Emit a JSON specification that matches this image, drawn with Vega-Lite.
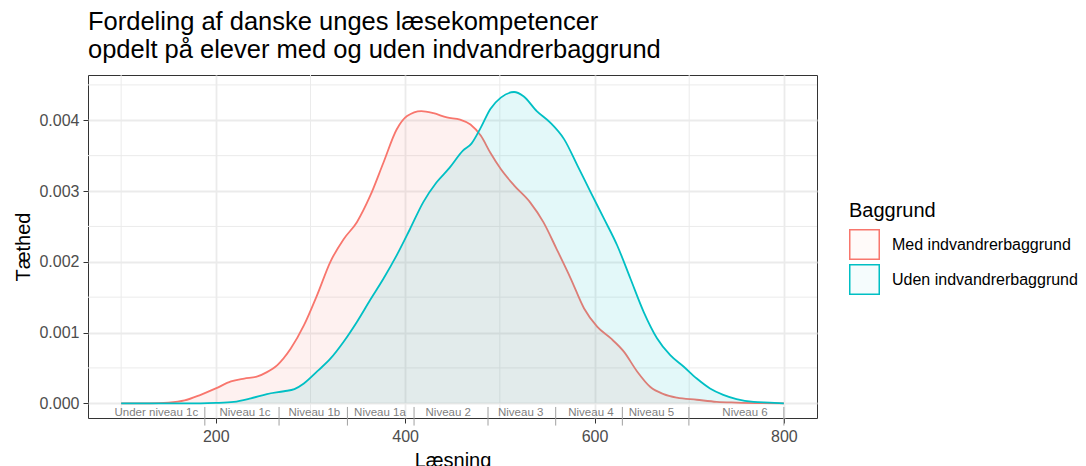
{
  "$schema": "https://vega.github.io/schema/vega-lite/v6.json",
  "width": 729,
  "height": 343,
  "autosize": "none",
  "padding": {"left": 88, "top": 75, "right": 269, "bottom": 48},
  "background": "white",
  "title": {
    "text": ["Fordeling af danske unges læsekompetencer", "opdelt på elever med og uden indvandrerbaggrund"],
    "anchor": "start",
    "frame": "group",
    "font": "Liberation Sans",
    "fontSize": 25.5,
    "fontWeight": "normal",
    "color": "black",
    "lineHeight": 28,
    "offset": 11
  },
  "config": {
    "font": "Liberation Sans",
    "view": {"stroke": "#333333", "strokeWidth": 1}
  },
  "datasets": {
    "dens": [
      {"g": "Med indvandrerbaggrund", "x": 100, "y": 0},
      {"g": "Med indvandrerbaggrund", "x": 130, "y": 0},
      {"g": "Med indvandrerbaggrund", "x": 150, "y": 0.00001},
      {"g": "Med indvandrerbaggrund", "x": 167, "y": 0.00004},
      {"g": "Med indvandrerbaggrund", "x": 184, "y": 0.00012},
      {"g": "Med indvandrerbaggrund", "x": 200, "y": 0.00021},
      {"g": "Med indvandrerbaggrund", "x": 216, "y": 0.00031},
      {"g": "Med indvandrerbaggrund", "x": 230, "y": 0.00035},
      {"g": "Med indvandrerbaggrund", "x": 244, "y": 0.00038},
      {"g": "Med indvandrerbaggrund", "x": 254, "y": 0.00044},
      {"g": "Med indvandrerbaggrund", "x": 265, "y": 0.00054},
      {"g": "Med indvandrerbaggrund", "x": 279, "y": 0.00077},
      {"g": "Med indvandrerbaggrund", "x": 293, "y": 0.0011},
      {"g": "Med indvandrerbaggrund", "x": 307, "y": 0.00153},
      {"g": "Med indvandrerbaggrund", "x": 321, "y": 0.002},
      {"g": "Med indvandrerbaggrund", "x": 335, "y": 0.00232},
      {"g": "Med indvandrerbaggrund", "x": 349, "y": 0.00256},
      {"g": "Med indvandrerbaggrund", "x": 363, "y": 0.00293},
      {"g": "Med indvandrerbaggrund", "x": 377, "y": 0.0034},
      {"g": "Med indvandrerbaggrund", "x": 391, "y": 0.00387},
      {"g": "Med indvandrerbaggrund", "x": 402, "y": 0.00406},
      {"g": "Med indvandrerbaggrund", "x": 417, "y": 0.00413},
      {"g": "Med indvandrerbaggrund", "x": 430, "y": 0.0041},
      {"g": "Med indvandrerbaggrund", "x": 444, "y": 0.00404},
      {"g": "Med indvandrerbaggrund", "x": 458, "y": 0.00401},
      {"g": "Med indvandrerbaggrund", "x": 469, "y": 0.00394},
      {"g": "Med indvandrerbaggrund", "x": 480, "y": 0.00378},
      {"g": "Med indvandrerbaggrund", "x": 490, "y": 0.00354},
      {"g": "Med indvandrerbaggrund", "x": 501, "y": 0.00331},
      {"g": "Med indvandrerbaggrund", "x": 515, "y": 0.00308},
      {"g": "Med indvandrerbaggrund", "x": 532, "y": 0.00284},
      {"g": "Med indvandrerbaggrund", "x": 546, "y": 0.00256},
      {"g": "Med indvandrerbaggrund", "x": 560, "y": 0.00218},
      {"g": "Med indvandrerbaggrund", "x": 575, "y": 0.00176},
      {"g": "Med indvandrerbaggrund", "x": 589, "y": 0.00134},
      {"g": "Med indvandrerbaggrund", "x": 603, "y": 0.00108},
      {"g": "Med indvandrerbaggrund", "x": 617, "y": 0.00092},
      {"g": "Med indvandrerbaggrund", "x": 631, "y": 0.00073},
      {"g": "Med indvandrerbaggrund", "x": 645, "y": 0.00045},
      {"g": "Med indvandrerbaggrund", "x": 659, "y": 0.00023},
      {"g": "Med indvandrerbaggrund", "x": 673, "y": 0.00013},
      {"g": "Med indvandrerbaggrund", "x": 687, "y": 0.00008},
      {"g": "Med indvandrerbaggrund", "x": 708, "y": 0.00005},
      {"g": "Med indvandrerbaggrund", "x": 729, "y": 0.00002},
      {"g": "Med indvandrerbaggrund", "x": 750, "y": 0.00001},
      {"g": "Med indvandrerbaggrund", "x": 800, "y": 0},
      {"g": "Uden indvandrerbaggrund", "x": 100, "y": 0},
      {"g": "Uden indvandrerbaggrund", "x": 184, "y": 0},
      {"g": "Uden indvandrerbaggrund", "x": 200, "y": 0.000005},
      {"g": "Uden indvandrerbaggrund", "x": 219, "y": 0.00002},
      {"g": "Uden indvandrerbaggrund", "x": 237, "y": 0.00007},
      {"g": "Uden indvandrerbaggrund", "x": 254, "y": 0.00013},
      {"g": "Uden indvandrerbaggrund", "x": 272, "y": 0.00017},
      {"g": "Uden indvandrerbaggrund", "x": 283, "y": 0.0002},
      {"g": "Uden indvandrerbaggrund", "x": 293, "y": 0.00028},
      {"g": "Uden indvandrerbaggrund", "x": 307, "y": 0.00045},
      {"g": "Uden indvandrerbaggrund", "x": 321, "y": 0.00063},
      {"g": "Uden indvandrerbaggrund", "x": 335, "y": 0.00087},
      {"g": "Uden indvandrerbaggrund", "x": 349, "y": 0.00115},
      {"g": "Uden indvandrerbaggrund", "x": 363, "y": 0.00146},
      {"g": "Uden indvandrerbaggrund", "x": 377, "y": 0.00176},
      {"g": "Uden indvandrerbaggrund", "x": 391, "y": 0.00209},
      {"g": "Uden indvandrerbaggrund", "x": 405, "y": 0.00246},
      {"g": "Uden indvandrerbaggrund", "x": 419, "y": 0.00284},
      {"g": "Uden indvandrerbaggrund", "x": 433, "y": 0.00312},
      {"g": "Uden indvandrerbaggrund", "x": 447, "y": 0.00333},
      {"g": "Uden indvandrerbaggrund", "x": 461, "y": 0.00357},
      {"g": "Uden indvandrerbaggrund", "x": 470, "y": 0.00367},
      {"g": "Uden indvandrerbaggrund", "x": 480, "y": 0.0039},
      {"g": "Uden indvandrerbaggrund", "x": 490, "y": 0.00416},
      {"g": "Uden indvandrerbaggrund", "x": 501, "y": 0.00432},
      {"g": "Uden indvandrerbaggrund", "x": 515, "y": 0.0044},
      {"g": "Uden indvandrerbaggrund", "x": 525, "y": 0.00434},
      {"g": "Uden indvandrerbaggrund", "x": 539, "y": 0.00413},
      {"g": "Uden indvandrerbaggrund", "x": 553, "y": 0.00397},
      {"g": "Uden indvandrerbaggrund", "x": 568, "y": 0.00373},
      {"g": "Uden indvandrerbaggrund", "x": 582, "y": 0.00336},
      {"g": "Uden indvandrerbaggrund", "x": 596, "y": 0.00298},
      {"g": "Uden indvandrerbaggrund", "x": 610, "y": 0.00261},
      {"g": "Uden indvandrerbaggrund", "x": 624, "y": 0.00223},
      {"g": "Uden indvandrerbaggrund", "x": 638, "y": 0.00176},
      {"g": "Uden indvandrerbaggrund", "x": 652, "y": 0.00129},
      {"g": "Uden indvandrerbaggrund", "x": 666, "y": 0.00092},
      {"g": "Uden indvandrerbaggrund", "x": 680, "y": 0.00068},
      {"g": "Uden indvandrerbaggrund", "x": 694, "y": 0.00052},
      {"g": "Uden indvandrerbaggrund", "x": 708, "y": 0.00035},
      {"g": "Uden indvandrerbaggrund", "x": 722, "y": 0.00021},
      {"g": "Uden indvandrerbaggrund", "x": 736, "y": 0.00012},
      {"g": "Uden indvandrerbaggrund", "x": 750, "y": 0.00006},
      {"g": "Uden indvandrerbaggrund", "x": 768, "y": 0.00002},
      {"g": "Uden indvandrerbaggrund", "x": 785, "y": 0.00001},
      {"g": "Uden indvandrerbaggrund", "x": 800, "y": 0}
    ],
    "minorx": [{"x": 100}, {"x": 300}, {"x": 500}, {"x": 700}],
    "minory": [{"y": 0.0005}, {"y": 0.0015}, {"y": 0.0025}, {"y": 0.0035}, {"y": 0.0045}],
    "bounds": [{"x": 188.4}, {"x": 266.8}, {"x": 339}, {"x": 409.4}, {"x": 487.5}, {"x": 559}, {"x": 629.4}, {"x": 699.7}, {"x": 800}],
    "levels": [
      {"label": "Under niveau 1c", "x": 137.2},
      {"label": "Niveau 1c", "x": 230.8},
      {"label": "Niveau 1b", "x": 304},
      {"label": "Niveau 1a", "x": 373.4},
      {"label": "Niveau 2", "x": 445.5},
      {"label": "Niveau 3", "x": 522},
      {"label": "Niveau 4", "x": 596.2},
      {"label": "Niveau 5", "x": 660.1},
      {"label": "Niveau 6", "x": 759}
    ]
  },
  "layer": [
    {
      "data": {"name": "minorx"},
      "mark": {"type": "rule", "color": "#ebebeb", "strokeWidth": 1},
      "encoding": {
        "x": {
          "field": "x", "type": "quantitative",
          "scale": {"domain": [65, 835], "nice": false, "zero": false},
          "axis": {
            "values": [200, 400, 600, 800], "title": "Læsning",
            "titleFontSize": 20, "titleFontWeight": "normal", "titleColor": "black", "titlePadding": 6,
            "labelFontSize": 16, "labelColor": "#4d4d4d", "labelPadding": 5,
            "tickColor": "#333333", "tickSize": 5, "tickWidth": 1,
            "domain": false, "grid": true, "gridColor": "#ebebeb", "gridWidth": 1.8
          }
        }
      }
    },
    {
      "data": {"name": "minory"},
      "mark": {"type": "rule", "color": "#ebebeb", "strokeWidth": 1},
      "encoding": {
        "y": {
          "field": "y", "type": "quantitative",
          "scale": {"domain": [-0.000208, 0.00464], "nice": false, "zero": false},
          "axis": {
            "values": [0, 0.001, 0.002, 0.003, 0.004], "format": ".3f", "title": "Tæthed",
            "titleFontSize": 20, "titleFontWeight": "normal", "titleColor": "black", "titlePadding": 5,
            "labelFontSize": 16, "labelColor": "#4d4d4d", "labelPadding": 4,
            "tickColor": "#333333", "tickSize": 5, "tickWidth": 1,
            "domain": false, "grid": true, "gridColor": "#ebebeb", "gridWidth": 1.8
          }
        }
      }
    },
    {
      "data": {"name": "dens"},
      "transform": [{"filter": "datum.g === 'Med indvandrerbaggrund'"}],
      "mark": {"type": "area", "fillOpacity": 0.1, "interpolate": "monotone"},
      "encoding": {
        "x": {"field": "x", "type": "quantitative", "scale": {"domain": [65, 835], "nice": false, "zero": false}},
        "y": {"field": "y", "type": "quantitative", "scale": {"domain": [-0.000208, 0.00464], "nice": false, "zero": false}},
        "color": {
          "field": "g", "type": "nominal",
          "scale": {"domain": ["Med indvandrerbaggrund", "Uden indvandrerbaggrund"], "range": ["#F8766D", "#00BFC4"]},
          "legend": {
            "title": "Baggrund", "orient": "none", "legendX": 761, "legendY": 126,
            "symbolType": "square", "symbolSize": 870, "symbolStrokeWidth": 1.5,
            "titleFontSize": 20, "titleFontWeight": "normal", "titleColor": "black", "titlePadding": 8,
            "labelFontSize": 16, "labelColor": "black", "labelOffset": 12, "labelLimit": 0,
            "rowPadding": -2, "padding": 0,
            "encode": {
              "symbols": {
                "update": {
                  "fill": {"scale": "color", "field": "value"},
                  "fillOpacity": {"value": 0.04},
                  "stroke": {"scale": "color", "field": "value"},
                  "opacity": {"value": 1}
                }
              }
            }
          }
        }
      }
    },
    {
      "data": {"name": "dens"},
      "transform": [{"filter": "datum.g === 'Med indvandrerbaggrund'"}],
      "mark": {"type": "line", "strokeWidth": 1.8, "interpolate": "monotone"},
      "encoding": {
        "x": {"field": "x", "type": "quantitative", "scale": {"domain": [65, 835], "nice": false, "zero": false}},
        "y": {"field": "y", "type": "quantitative", "scale": {"domain": [-0.000208, 0.00464], "nice": false, "zero": false}},
        "color": {"field": "g", "type": "nominal"}
      }
    },
    {
      "data": {"name": "dens"},
      "transform": [{"filter": "datum.g === 'Uden indvandrerbaggrund'"}],
      "mark": {"type": "area", "fillOpacity": 0.11, "interpolate": "monotone"},
      "encoding": {
        "x": {"field": "x", "type": "quantitative", "scale": {"domain": [65, 835], "nice": false, "zero": false}},
        "y": {"field": "y", "type": "quantitative", "scale": {"domain": [-0.000208, 0.00464], "nice": false, "zero": false}},
        "color": {"field": "g", "type": "nominal"}
      }
    },
    {
      "data": {"name": "dens"},
      "transform": [{"filter": "datum.g === 'Uden indvandrerbaggrund'"}],
      "mark": {"type": "line", "strokeWidth": 1.8, "interpolate": "monotone"},
      "encoding": {
        "x": {"field": "x", "type": "quantitative", "scale": {"domain": [65, 835], "nice": false, "zero": false}},
        "y": {"field": "y", "type": "quantitative", "scale": {"domain": [-0.000208, 0.00464], "nice": false, "zero": false}},
        "color": {"field": "g", "type": "nominal"}
      }
    },
    {
      "data": {"name": "bounds"},
      "mark": {"type": "rule", "color": "#a0a0a0", "strokeWidth": 1},
      "encoding": {
        "x": {"field": "x", "type": "quantitative", "scale": {"domain": [65, 835], "nice": false, "zero": false}},
        "y": {"datum": -0.000052, "type": "quantitative"},
        "y2": {"datum": -0.000315}
      }
    },
    {
      "data": {"name": "levels"},
      "mark": {"type": "text", "fontSize": 11.5, "color": "#7f7f7f", "baseline": "middle", "align": "center"},
      "encoding": {
        "x": {"field": "x", "type": "quantitative", "scale": {"domain": [65, 835], "nice": false, "zero": false}},
        "y": {"datum": -0.000133, "type": "quantitative"},
        "text": {"field": "label"}
      }
    }
  ]
}
